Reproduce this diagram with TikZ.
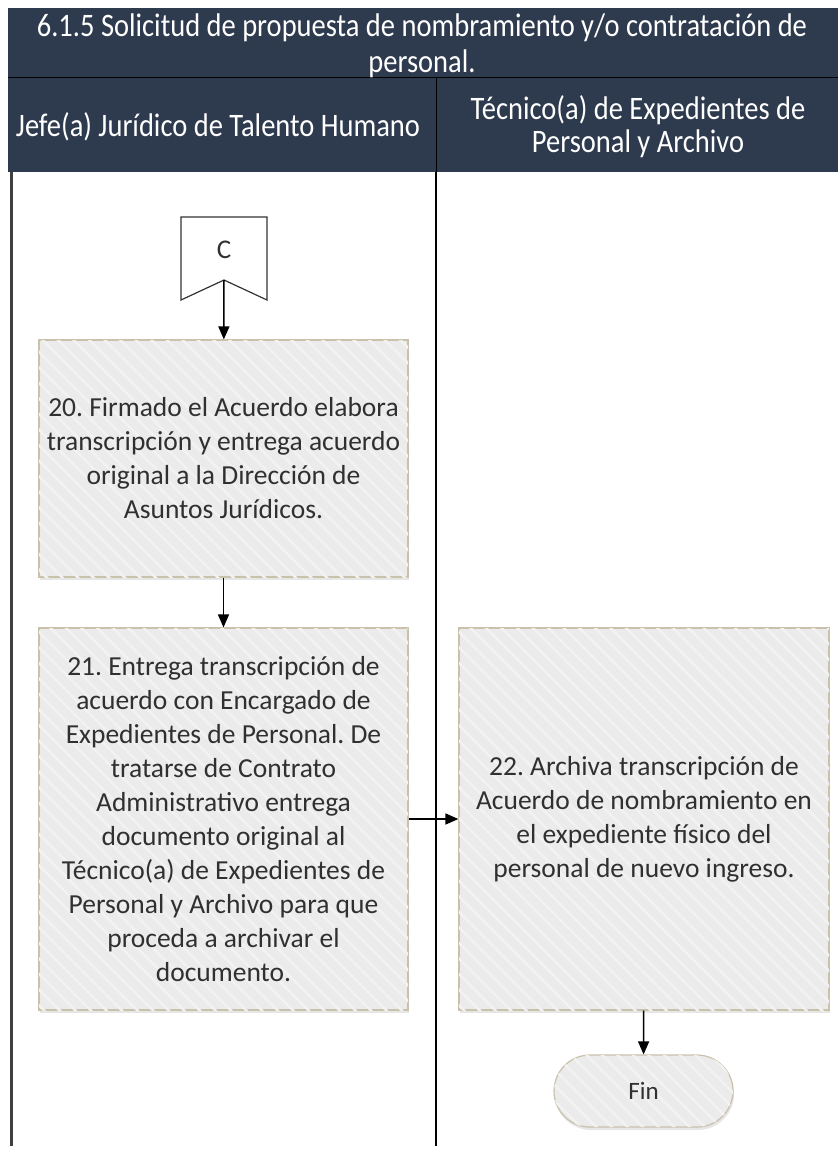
\documentclass[tikz,border=0pt]{standalone}
\usepackage{fontspec}
\setmainfont{Carlito}
\usepackage{xcolor}
\usepackage{graphicx}
\usepackage{tikz}
\usetikzlibrary{arrows.meta,shapes,shadows,patterns.meta}
\frenchspacing
\definecolor{hdrblue}{HTML}{2E3A4E}
\definecolor{boxgray}{HTML}{EBEBEB}
\definecolor{boxedge}{HTML}{C9C1AA}
\definecolor{txtgray}{HTML}{303030}
\newcommand{\tallhdr}[1]{\scalebox{1}[1.15]{#1}}
\tikzstyle{hdr}=[text=white,align=center,font=\fontsize{28.5}{36}\selectfont]
\tikzstyle{actblk}=[rectangle, draw=boxedge, line width=1.2pt, fill=boxgray,% a gray box with faint stripes
postaction={pattern={Lines[angle=-45,distance=11pt,line width=2.5pt]},pattern color=white!35!boxgray},
drop shadow={opacity=0.2,shadow xshift=1pt,shadow yshift=-3pt},
text=txtgray, align=center, font=\fontsize{27.5}{34}\selectfont]
\tikzstyle{flow}=[-{Triangle[length=13pt,width=11pt]}, line width=1.5pt]

\begin{document}
\begin{tikzpicture}[x=1pt,y=-1pt]
\useasboundingbox (0,0) rectangle (838,1153);

% header
\fill[hdrblue] (8,8) rectangle (838,172);
\draw[black, line width=1pt] (8,78) -- (838,78);
\draw[black, line width=1pt] (436,78) -- (436,172);
\node[hdr] (title1) at (422,28) {\tallhdr{6.1.5 Solicitud de propuesta de nombramiento y/o contratación de}};
\node[hdr] (title2) at (422,64) {\tallhdr{personal.}};
\node[hdr] (lane1) at (218,127) {\tallhdr{Jefe(a) Jurídico de Talento Humano}};
\node[hdr] (lane2a) at (638,110) {\tallhdr{Técnico(a) de Expedientes de}};
\node[hdr] (lane2b) at (638,144) {\tallhdr{Personal y Archivo}};

% lanes
\draw[black!75, line width=3pt] (11,172) -- (11,1146);
\draw[black, line width=1.5pt] (436,172) -- (436,1146);

% off-page connector
\draw[black!80, line width=1.2pt, fill=white] (181,217) -- (267,217) -- (267,300) -- (224,280) -- (181,300) -- cycle;
\node[text=txtgray, font=\fontsize{27}{32}\selectfont] (c) at (224,250) {C};
\coordinate (cN) at (224,280);

\node[actblk, minimum width=369pt, minimum height=237pt] (a20) at (223.5,458.5)
{20. Firmado el Acuerdo elabora\\transcripción y entrega acuerdo\\original a la Dirección de\\Asuntos Jurídicos.};
\node[actblk, minimum width=369pt, minimum height=382pt] (a21) at (223.5,819)
{21. Entrega transcripción de\\acuerdo con Encargado de\\Expedientes de Personal. De\\tratarse de Contrato\\Administrativo entrega\\documento original al\\Técnico(a) de Expedientes de\\Personal y Archivo para que\\proceda a archivar el\\documento.};
\node[actblk, minimum width=370pt, minimum height=382pt] (a22) at (644,819)
{22. Archiva transcripción de\\Acuerdo de nombramiento en\\el expediente físico del\\personal de nuevo ingreso.};
\node[actblk, rounded corners=36pt, minimum width=179pt, minimum height=72pt, font=\fontsize{25}{30}\selectfont] (fin) at (643.5,1091) {Fin};

\draw [flow] (cN) -- (a20);
\draw [flow] (a20) -- (a21);
\draw [flow] (a21) -- (a22);
\draw [flow] (a22) -- (fin);

\end{tikzpicture}
\end{document}
